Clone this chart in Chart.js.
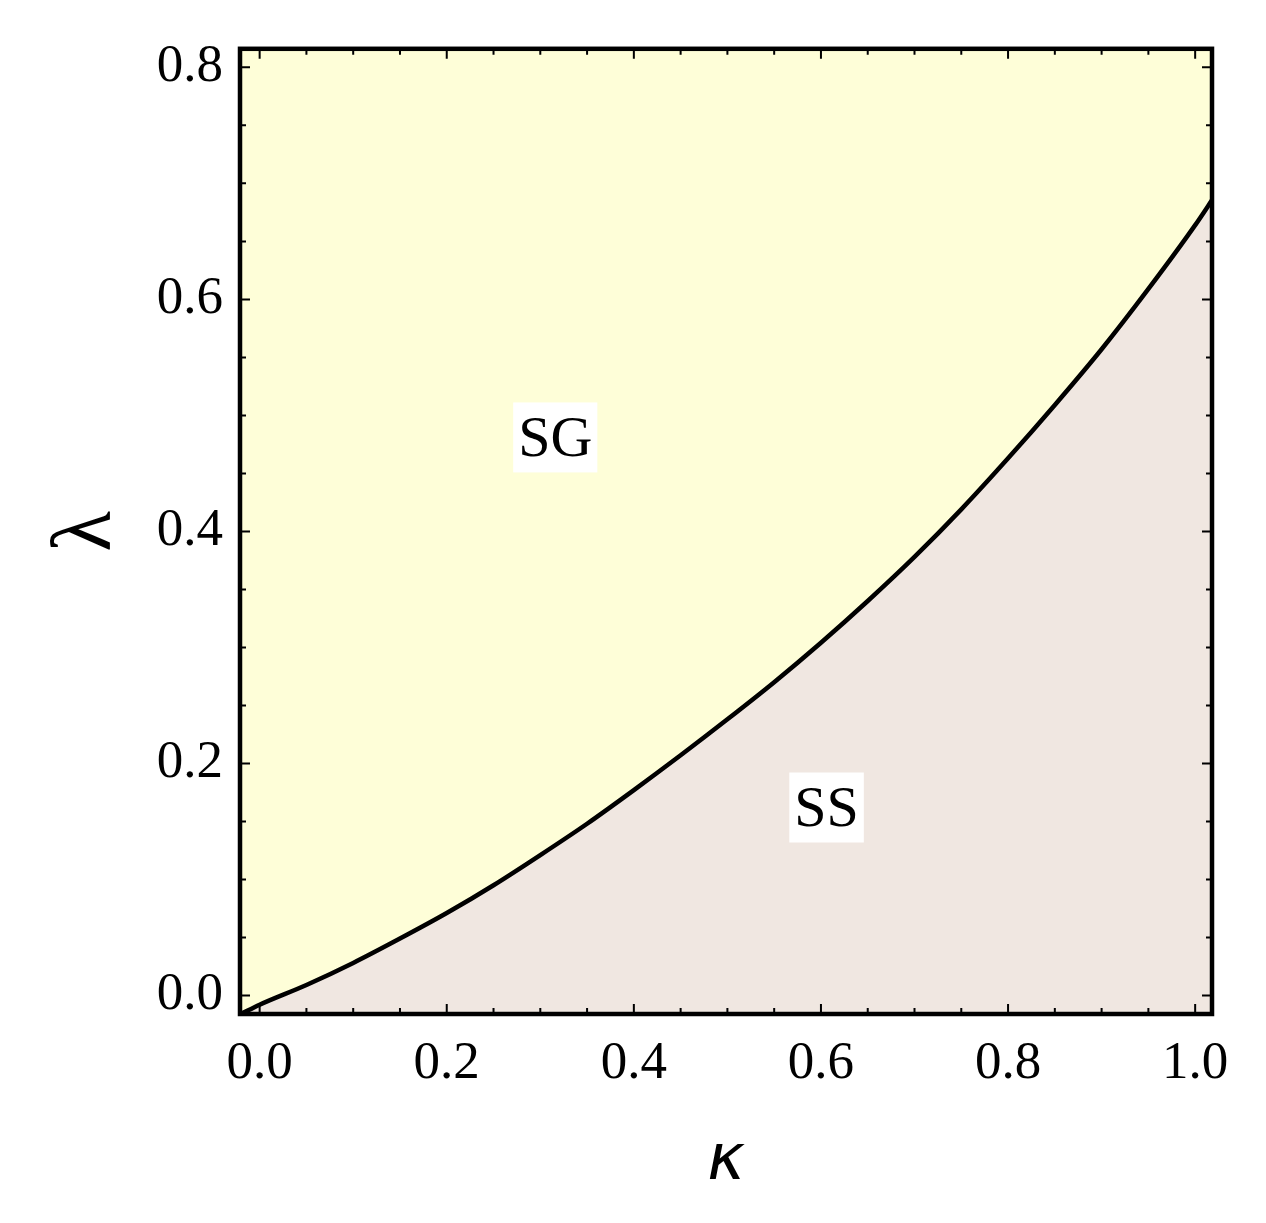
<!DOCTYPE html>
<html>
<head>
<meta charset="utf-8">
<script src="https://cdn.jsdelivr.net/npm/chart.js@4.4.1/dist/chart.umd.min.js"></script>
<style>
  html, body { margin: 0; padding: 0; background: #fff; }
  #wrap { width: 1266px; height: 1223px; }
</style>
</head>
<body>
<div id="wrap"><canvas id="phaseChart" width="1266" height="1223"></canvas></div>
<script>
// phase boundary
var kappa  = [-0.02, 0, 0.05, 0.1, 0.15, 0.2, 0.25, 0.3, 0.35, 0.4, 0.45, 0.5, 0.55, 0.6, 0.65, 0.7, 0.75, 0.8, 0.85, 0.9, 0.95, 1.0, 1.02];
var lambda = [-0.016, -0.008, 0.009, 0.028, 0.049, 0.071, 0.095, 0.121, 0.148, 0.177, 0.207, 0.238, 0.270, 0.304, 0.340, 0.378, 0.419, 0.463, 0.509, 0.557, 0.609, 0.664, 0.688];

var xTicks = [0, 0.2, 0.4, 0.6, 0.8, 1.0];
var yTicks = [0, 0.2, 0.4, 0.6, 0.8];

var regionNames  = ['SG', 'SS'];
var regionKappa  = [0.316, 0.606];
var regionLambda = [0.481, 0.162];

var serif = "'Liberation Serif', 'Times New Roman', serif";

var points = [];
for (var i = 0; i < kappa.length; i++) {
  points.push({x: kappa[i], y: lambda[i]});
}

// yellow background, frame with inward ticks, region labels
var phasePlugin = {
  id: 'phase',
  beforeDatasetsDraw: function(chart) {
    var a = chart.chartArea, ctx = chart.ctx;
    ctx.save();
    ctx.fillStyle = '#fefed8';
    ctx.fillRect(a.left, a.top, a.right - a.left, a.bottom - a.top);
    ctx.restore();
  },
  afterDatasetsDraw: function(chart) {
    var ctx = chart.ctx, xs = chart.scales.x, ys = chart.scales.y;
    ctx.save();
    ctx.font = '58px ' + serif;
    ctx.textAlign = 'center';
    ctx.textBaseline = 'middle';
    for (var i = 0; i < regionNames.length; i++) {
      var px = xs.getPixelForValue(regionKappa[i]);
      var py = ys.getPixelForValue(regionLambda[i]);
      var w = ctx.measureText(regionNames[i]).width + 10;
      ctx.fillStyle = '#ffffff';
      ctx.fillRect(px - w / 2, py - 35, w, 70);
      ctx.fillStyle = '#000000';
      ctx.fillText(regionNames[i], px, py + 3);
    }
    ctx.restore();
  },
  afterDraw: function(chart) {
    var a = chart.chartArea, ctx = chart.ctx, xs = chart.scales.x, ys = chart.scales.y;
    ctx.save();
    ctx.strokeStyle = '#000000';
    ctx.lineWidth = 2;
    var v, p, len;
    for (v = 0; v <= 1.0001; v += 0.05) {
      p = xs.getPixelForValue(v);
      len = Math.abs(v * 5 - Math.round(v * 5)) < 1e-6 ? 10 : 6;
      ctx.beginPath();
      ctx.moveTo(p, a.bottom); ctx.lineTo(p, a.bottom - len);
      ctx.moveTo(p, a.top); ctx.lineTo(p, a.top + len);
      ctx.stroke();
    }
    for (v = 0; v <= 0.8001; v += 0.05) {
      p = ys.getPixelForValue(v);
      len = Math.abs(v * 5 - Math.round(v * 5)) < 1e-6 ? 10 : 6;
      ctx.beginPath();
      ctx.moveTo(a.left, p); ctx.lineTo(a.left + len, p);
      ctx.moveTo(a.right, p); ctx.lineTo(a.right - len, p);
      ctx.stroke();
    }
    ctx.lineWidth = 4.5;
    ctx.strokeRect(a.left, a.top, a.right - a.left, a.bottom - a.top);
    ctx.restore();
  }
};

var ctx = document.getElementById('phaseChart');
var phaseChart = new Chart(ctx, {
  type: 'line',
  data: {
    datasets: [{
      data: points,
      borderColor: '#000000',
      borderWidth: 4.5,
      backgroundColor: '#f0e7e1',
      fill: 'start',
      pointRadius: 0,
      cubicInterpolationMode: 'monotone'
    }]
  },
  options: {
    responsive: false,
    animation: false,
    layout: { padding: { left: 0, top: 42, right: 54, bottom: 0 } },
    plugins: {
      legend: { display: false },
      tooltip: { enabled: false }
    },
    scales: {
      x: {
        type: 'linear',
        min: -0.021,
        max: 1.018,
        afterBuildTicks: function(scale) {
          scale.ticks = xTicks.map(function(v) { return {value: v}; });
        },
        afterFit: function(scale) { scale.height = 209; },
        grid: { display: false, drawTicks: false },
        border: { display: false },
        ticks: {
          color: '#000',
          padding: 18,
          maxRotation: 0,
          font: { family: serif, size: 53 },
          callback: function(v) { return Number(v).toFixed(1); }
        },
        title: {
          display: true,
          text: 'κ',
          color: '#000',
          font: { family: "'DejaVu Sans', sans-serif", size: 64, style: 'italic' },
          padding: { top: 0, bottom: 22 }
        }
      },
      y: {
        type: 'linear',
        min: -0.016,
        max: 0.816,
        afterBuildTicks: function(scale) {
          scale.ticks = yTicks.map(function(v) { return {value: v}; });
        },
        afterFit: function(scale) { scale.width = 240; },
        grid: { display: false, drawTicks: false },
        border: { display: false },
        ticks: {
          color: '#000',
          padding: 17,
          font: { family: serif, size: 53 },
          callback: function(v) { return Number(v).toFixed(1); }
        },
        title: {
          display: true,
          text: 'λ',
          color: '#000',
          font: { family: serif, size: 84 },
          padding: { top: 38, bottom: 0 }
        }
      }
    }
  },
  plugins: [phasePlugin]
});
</script>
</body>
</html>
